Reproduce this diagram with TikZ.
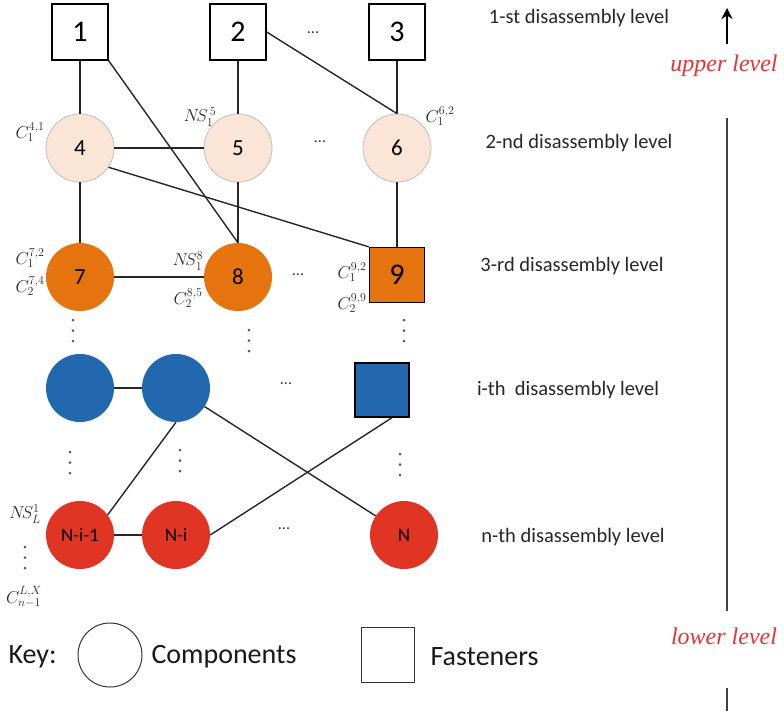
\documentclass[tikz,border=0pt]{standalone}
\usepackage{fontspec}
\setmainfont{Carlito}
\newfontfamily\lvserif{Liberation Serif}
\usetikzlibrary{arrows.meta}
\definecolor{peach}{RGB}{251,229,214}
\definecolor{orng}{RGB}{230,116,14}
\definecolor{bluec}{RGB}{34,104,174}
\definecolor{redc}{RGB}{224,52,36}
\definecolor{lvred}{RGB}{228,52,52}
\definecolor{dotc}{RGB}{90,90,90}
\newcommand\vdts[2]{\foreach \k in {0,1,2} \fill[dotc] (#1,#2+\k*10.5) circle (1.5);}
\tikzset{
  edge/.style={line width=1.4pt, draw=black!85},
  fast/.style={draw=black, line width=1.3pt, minimum size=56pt, inner sep=0pt},
  comp/.style={circle, minimum size=68pt, inner sep=0pt},
  lvtwo/.style={comp, draw=black!25, line width=0.8pt, fill=peach, font=\fontsize{23}{23}\selectfont},
  lvthree/.style={comp, fill=orng, font=\fontsize{23}{23}\selectfont},
  lvi/.style={comp, fill=bluec},
  lvn/.style={comp, fill=redc, font=\fontsize{19}{19}\selectfont},
  lvlabel/.style={font=\fontsize{20.5}{20.5}\selectfont, text=black!85},
  mlab/.style={font=\fontsize{18}{18}\selectfont, text=black!85, inner sep=0pt},
  hdots/.style={font=\fontsize{16}{16}\selectfont, text=black!80},
  sidetxt/.style={font=\lvserif\itshape\fontsize{24}{24}\selectfont, text=lvred},
  keytxt/.style={font=\fontsize{28}{28}\selectfont, text=black!90},
  numtxt/.style={font=\fontsize{30}{30}\selectfont}
}
\begin{document}
\begin{tikzpicture}[x=1pt,y=-1pt]
\useasboundingbox (0,0) rectangle (784,713);
% level 1
\node[fast, numtxt] (n1) at (80,32) {1};
\node[fast, numtxt] (n2) at (238,32) {2};
\node[fast, numtxt] (n3) at (397,32) {3};
\node[hdots] (d1) at (313,33) {...};
% level 2
\node[lvtwo] (n4) at (80,148) {4};
\node[lvtwo] (n5) at (238,148) {5};
\node[lvtwo] (n6) at (397,148) {6};
\node[hdots] (d2) at (320,142) {...};
% level 3 labels (behind)
\node[mlab] (l92) at (352,303) {$C_2^{9,9}$};
% level 3
\node[lvthree] (n7) at (80,277) {7};
\node[lvthree] (n8) at (238,277) {8};
\node[fast, fill=orng, minimum size=55pt, numtxt] (n9) at (397,275) {9};
\node[hdots] (d3) at (298,275) {...};
% level i
\node[lvi] (b1) at (80,388) {};
\node[lvi] (b2) at (176,388) {};
\node[fast, fill=bluec, minimum size=54pt] (bs) at (382,390) {};
\node[hdots] (d4) at (286,384) {...};
% level n
\node[lvn] (ni1) at (80,535) {N-i-1};
\node[lvn] (ni) at (176,535) {N-i};
\node[lvn] (nn) at (404,535) {N};
\node[hdots] (d5) at (284,529) {...};
% edges
\draw[edge] (n1) -- (n4);
\draw[edge] (n1.south east) -- (n8.north);
\draw[edge] (n2) -- (n5);
\draw[edge] (n2.east) -- (n6.north);
\draw[edge] (n3) -- (n6);
\draw[edge] (n4) -- (n5);
\draw[edge] (n4.-34) -- (n9.north west);
\draw[edge] (n4) -- (n7);
\draw[edge] (n5) -- (n8);
\draw[edge] (n6) -- (n9);
\draw[edge] (n7) -- (n8);
\draw[edge] (b1) -- (b2);
\draw[edge] (b2.south) -- (ni1.36);
\draw[edge] (b2.-33) -- (nn.146);
\draw[edge] (bs.-70) -- (ni.east);
\draw[edge] (ni1) -- (ni);
% vertical dots
\vdts{73}{320}
\vdts{249}{330}
\vdts{404}{320}
\vdts{70}{452}
\vdts{180}{450}
\vdts{400}{454}
\vdts{25}{547}
% math labels
\node[mlab] (l41) at (30,132) {$C_1^{4,1}$};
\node[mlab] (l5) at (200,117) {$N\!S_1^{\,5}$};
\node[mlab] (l62) at (440,116) {$C_1^{6,2}$};
\node[mlab] (l72) at (30,258) {$C_1^{7,2}$};
\node[mlab] (l74) at (30,286) {$C_2^{7,4}$};
\node[mlab] (l8) at (188,261) {$N\!S_1^8$};
\node[mlab] (l85) at (188,298) {$C_2^{8,5}$};
\node[mlab] (l91) at (352,272) {$C_1^{9,2}$};
\node[mlab] (lns) at (25,514) {$N\!S_L^1$};
\node[mlab] (lcx) at (24,597) {$C_{n-1}^{L,X}$};
% level texts
\node[lvlabel] (t1) at (579,18) {1-st disassembly level};
\node[lvlabel] (t2) at (579,143) {2-nd disassembly level};
\node[lvlabel] (t3) at (572,266) {3-rd disassembly level};
\node[lvlabel] (t4) at (568,390) {i-th\ \ disassembly level};
\node[lvlabel] (t5) at (573,537) {n-th disassembly level};
% side axis
\node[sidetxt] (up) at (724,66) {upper level};
\node[sidetxt] (low) at (724,636) {lower level};
\coordinate (a1) at (727,44);
\coordinate (a2) at (727,8);
\draw[line width=2.2pt, -{Stealth[length=11pt,width=11pt]}] (a1) -- (a2);
\coordinate (v1) at (727,118);
\coordinate (v2) at (727,611);
\draw[line width=2pt, black!75] (v1) -- (v2);
\coordinate (w1) at (727,688);
\coordinate (w2) at (727,711);
\draw[line width=2pt, black!75] (w1) -- (w2);
% key
\node[keytxt, anchor=west] (key) at (5,657) {Key:};
\node[draw=black!80, line width=1pt, circle, minimum size=64pt] (kc) at (110,655) {};
\node[keytxt, anchor=west] (kct) at (148,657) {Components};
\node[draw=black!80, line width=1pt, minimum width=53pt, minimum height=55pt] (ks) at (388,655) {};
\node[keytxt, anchor=west] (kst) at (427,657) {Fasteners};
\end{tikzpicture}
\end{document}
